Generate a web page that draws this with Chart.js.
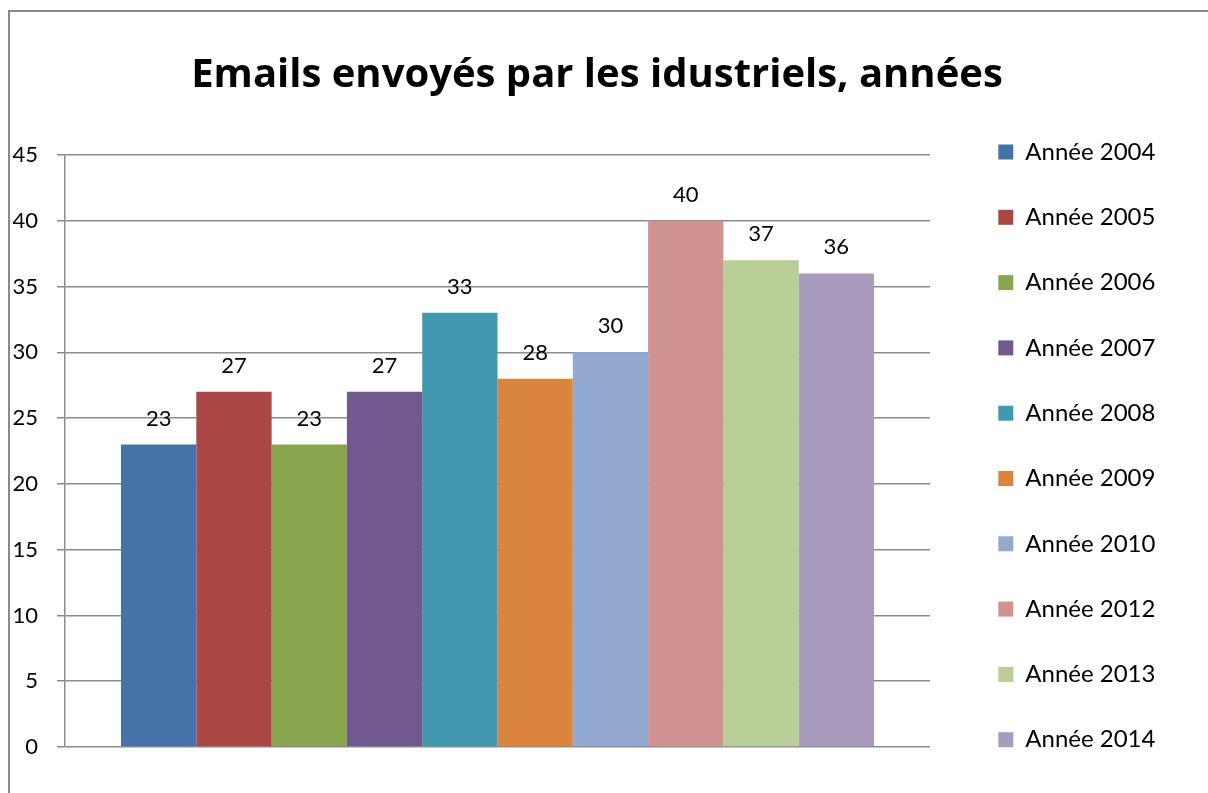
<!DOCTYPE html>
<html lang="fr">
<head>
<meta charset="utf-8">
<title>Emails envoyés par les idustriels</title>
<script src="https://cdn.jsdelivr.net/npm/chart.js@4/dist/chart.umd.min.js"></script>
<style>
  html, body { margin: 0; padding: 0; background: #fff; overflow: hidden; }
  #wrap { position: relative; width: 1208px; height: 793px; }
  #frame {
    position: absolute; left: 8px; top: 10px; width: 1400px; height: 1000px;
    border-left: 2px solid #8a8a8a; border-top: 2px solid #8a8a8a;
  }
  #chart { position: absolute; left: 0; top: 0; }
</style>
</head>
<body>
<div id="wrap">
  <div id="frame"></div>
  <canvas id="chart" width="1208" height="793"></canvas>
</div>
<script>
const title = 'Emails envoyés par les idustriels, années';
const categories = [''];
const seriesLabels = [
  'Année 2004', 'Année 2005', 'Année 2006', 'Année 2007', 'Année 2008',
  'Année 2009', 'Année 2010', 'Année 2012', 'Année 2013', 'Année 2014',
];
const seriesValues = [23, 27, 23, 27, 33, 28, 30, 40, 37, 36];
const seriesColors = [
  '#4572A7', '#AA4643', '#89A54E', '#71588F', '#4198AF',
  '#DB843D', '#93A9CF', '#D19392', '#B9CD96', '#A99BBD',
];
const yMin = 0;
const yMax = 45;
const yStep = 5;

const FONT = 'Lato, "Open Sans", sans-serif';
const TITLE_FONT = '"Open Sans", Lato, sans-serif';
const gridColor = '#8c8c8c';

// value printed above each bar
const barValues = {
  id: 'barValues',
  afterDatasetsDraw(chart) {
    const ctx = chart.ctx;
    ctx.save();
    ctx.font = '22px ' + FONT;
    ctx.fillStyle = '#000';
    ctx.textAlign = 'center';
    ctx.textBaseline = 'middle';
    chart.data.datasets.forEach((ds, i) => {
      chart.getDatasetMeta(i).data.forEach((bar, j) => {
        ctx.fillText(String(ds.data[j]), bar.x, bar.y - 26);
      });
    });
    ctx.restore();
  },
};

// legend column is wider than its text, like the Excel one
const legendWidth = {
  id: 'legendWidth',
  beforeInit(chart) {
    const fit = chart.legend.fit;
    chart.legend.fit = function () {
      fit.call(this);
      this.width = 237;
    };
  },
};

const datasets = seriesLabels.map((label, i) => ({
  label,
  data: [seriesValues[i]],
  backgroundColor: seriesColors[i],
  borderWidth: 0,
}));

new Chart(document.getElementById('chart'), {
  type: 'bar',
  data: { labels: categories, datasets },
  options: {
    responsive: false,
    animation: false,
    categoryPercentage: 0.8705,
    barPercentage: 1,
    layout: { padding: { top: 10, right: 14, bottom: 0, left: 0 } },
    plugins: {
      title: {
        display: true,
        text: title,
        color: '#000',
        font: { family: TITLE_FONT, size: 40, weight: 'bold' },
        padding: { top: 42, bottom: 55 },
      },
      legend: {
        position: 'right',
        align: 'end',
        labels: {
          color: '#000',
          boxWidth: 15,
          boxHeight: 15,
          padding: 41.3,
          font: { family: FONT, size: 24 },
        },
      },
      tooltip: { enabled: false },
    },
    scales: {
      x: {
        type: 'category',
        grid: { display: false },
        border: { display: false },
        ticks: { display: false },
        afterFit: (s) => { s.height = 46; },
      },
      y: {
        min: yMin,
        max: yMax,
        ticks: {
          stepSize: yStep,
          color: '#000',
          padding: 19,
          font: { family: FONT, size: 22 },
        },
        grid: { color: gridColor, lineWidth: 1.5, tickLength: 8 },
        border: { display: true, color: gridColor, width: 1.5 },
        afterFit: (s) => { s.width = 65; },
      },
      y2: {
        position: 'right',
        grid: { display: false },
        border: { display: false },
        ticks: { display: false },
        afterFit: (s) => { s.width = 27; },
      },
    },
  },
  plugins: [barValues, legendWidth],
});
</script>
</body>
</html>
